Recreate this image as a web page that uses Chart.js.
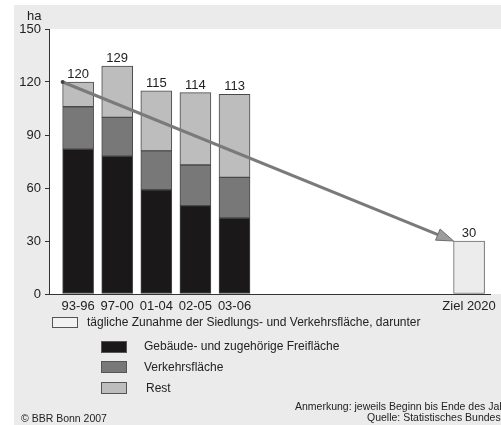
<!DOCTYPE html>
<html lang="de">
<head>
<meta charset="utf-8">
<title>Tägliche Zunahme der Siedlungs- und Verkehrsfläche</title>
<script src="https://cdn.jsdelivr.net/npm/chart.js@4.4.1/dist/chart.umd.min.js"></script>
<style>
  html, body { margin: 0; padding: 0; background: #fff; }
  body { width: 501px; height: 425px; position: relative; overflow: hidden;
         font-family: "Liberation Sans", Arial, sans-serif; color: #222; }
  .panel { position: absolute; left: 14px; top: 5px; width: 487px; height: 420px; background: #ebebeb; }
  .wrap { position: absolute; left: 0; top: 0; width: 501px; height: 425px; }
  .txt { position: absolute; white-space: nowrap; line-height: 1; }
  .box { position: absolute; box-sizing: border-box; border: 1px solid #555; }
  .leg { font-size: 12px; }
  .note { font-size: 10.5px; }
</style>
</head>
<body>
<div class="panel"></div>
<div class="wrap"><canvas id="chart"></canvas></div>

<span class="txt" style="left:27px; top:9px; font-size:13px;">ha</span>

<!-- Legende -->
<div class="box" style="left:52px; top:317px; width:26px; height:11px; background:#f2f2f2;"></div>
<span class="txt leg" style="left:87px; top:316px;">tägliche Zunahme der Siedlungs- und Verkehrsfläche, darunter</span>
<div class="box" style="left:101px; top:341px; width:26px; height:12px; background:#1a1819;"></div>
<span class="txt leg" style="left:144px; top:340px;">Gebäude- und zugehörige Freifläche</span>
<div class="box" style="left:101px; top:361px; width:26px; height:12px; background:#787878;"></div>
<span class="txt leg" style="left:144px; top:361px;">Verkehrsfläche</span>
<div class="box" style="left:101px; top:382px; width:26px; height:12px; background:#bdbdbd;"></div>
<span class="txt leg" style="left:146px; top:382px;">Rest</span>

<span class="txt note" style="left:295px; top:401px;">Anmerkung: jeweils Beginn bis Ende des Jahres</span>
<span class="txt note" style="left:367px; top:412px;">Quelle: Statistisches Bundesamt</span>
<span class="txt note" style="left:21px; top:413px;">© BBR Bonn 2007</span>

<script>
// Kategorien (leere Plätze = Lücke bis zum Ziel 2020)
const categories = ['93-96', '97-00', '01-04', '02-05', '03-06', '', '', '', '', '', 'Ziel 2020'];

// Werte in ha pro Tag
const gebaeude = [82, 78, 59, 50, 43, null, null, null, null, null, null];
const verkehr  = [24, 22, 22, 23, 23, null, null, null, null, null, null];
const rest     = [14, 29, 34, 41, 47, null, null, null, null, null, null];
const ziel     = [null, null, null, null, null, null, null, null, null, null, 30];
const totals   = [120, 129, 115, 114, 113, null, null, null, null, null, 30];

const yTicks = [0, 30, 60, 90, 120, 150];

const toPoints = arr => arr.map((y, i) => ({ x: i, y })).filter(p => p.y !== null);

Chart.defaults.font.family = '"Liberation Sans", Arial, sans-serif';
Chart.defaults.color = '#222';

// Weißer Hintergrund der Zeichenfläche
const plotBg = {
  id: 'plotBg',
  beforeDraw(chart) {
    const { ctx, chartArea: a } = chart;
    ctx.save();
    ctx.fillStyle = '#fff';
    ctx.fillRect(a.left, a.top, chart.width - a.left, a.bottom - a.top);
    ctx.restore();
  }
};

// Pfeil vom ersten Balken zum Ziel 2020
const arrow = {
  id: 'arrow',
  afterDatasetsDraw(chart) {
    const { ctx } = chart;
    const first = chart.getDatasetMeta(2).data[0];
    const goal = chart.getDatasetMeta(3).data[0];
    if (!first || !goal) return;
    const x0 = first.x - first.width / 2, y0 = first.y;
    const x1 = goal.x - goal.width / 2, y1 = goal.y;
    const ang = Math.atan2(y1 - y0, x1 - x0);
    const head = 17, half = 6;
    const bx = x1 - head * Math.cos(ang), by = y1 - head * Math.sin(ang);
    ctx.save();
    ctx.strokeStyle = '#7a7a7a';
    ctx.lineWidth = 3;
    ctx.beginPath();
    ctx.moveTo(x0, y0);
    ctx.lineTo(bx, by);
    ctx.stroke();
    ctx.beginPath();
    ctx.moveTo(x1, y1);
    ctx.lineTo(bx + half * Math.sin(ang), by - half * Math.cos(ang));
    ctx.lineTo(bx - half * Math.sin(ang), by + half * Math.cos(ang));
    ctx.closePath();
    ctx.fillStyle = '#9c9c9c';
    ctx.fill();
    ctx.lineWidth = 1;
    ctx.strokeStyle = '#6e6e6e';
    ctx.stroke();
    ctx.fillStyle = '#444';
    ctx.beginPath();
    ctx.arc(x0, y0, 2, 0, Math.PI * 2);
    ctx.fill();
    ctx.restore();
  }
};

// Summen über den Balken
const totalLabels = {
  id: 'totalLabels',
  afterDatasetsDraw(chart) {
    const { ctx } = chart;
    const xs = chart.scales.x, ys = chart.scales.y;
    ctx.save();
    ctx.font = '13px "Liberation Sans", Arial, sans-serif';
    ctx.fillStyle = '#222';
    ctx.textAlign = 'center';
    ctx.textBaseline = 'alphabetic';
    totals.forEach((t, i) => {
      if (t === null) return;
      ctx.fillText(String(t), xs.getPixelForValue(i), ys.getPixelForValue(t) - 4);
    });
    ctx.restore();
  }
};

const barStyle = { borderColor: '#4a4a4a', borderWidth: 1, borderSkipped: false, barThickness: 31 };

new Chart(document.getElementById('chart'), {
  type: 'bar',
  data: {
    datasets: [
      { label: 'Gebäude- und zugehörige Freifläche', data: toPoints(gebaeude), backgroundColor: '#1a1819', ...barStyle },
      { label: 'Verkehrsfläche', data: toPoints(verkehr), backgroundColor: '#787878', ...barStyle },
      { label: 'Rest', data: toPoints(rest), backgroundColor: '#bdbdbd', ...barStyle },
      { label: 'Ziel 2020', data: toPoints(ziel), backgroundColor: '#ececec', ...barStyle, borderColor: '#6a6a6a' }
    ]
  },
  options: {
    responsive: true,
    maintainAspectRatio: false,
    animation: false,
    layout: { padding: { left: 14, top: 29, right: 4, bottom: 109 } },
    plugins: { legend: { display: false }, tooltip: { enabled: false } },
    scales: {
      x: {
        type: 'linear', stacked: true, offset: false, min: -0.745, max: 10.54,
        grid: { display: false, drawTicks: false, offset: false },
        border: { color: '#333', width: 1 },
        afterBuildTicks: s => { s.ticks = categories.map((c, i) => ({ value: i })).filter(t => categories[t.value]); },
        afterFit: s => { s.height = 22; },
        ticks: { callback: v => categories[v], autoSkip: false, maxRotation: 0, padding: 5, color: '#222', font: { size: 13 } }
      },
      y: {
        stacked: true, min: 0, max: 150,
        afterBuildTicks: s => { s.ticks = yTicks.map(v => ({ value: v })); },
        afterFit: s => { s.width = 35; },
        grid: { drawOnChartArea: false, drawTicks: true, tickLength: 4, color: '#333' },
        border: { color: '#333', width: 1 },
        ticks: { padding: 4, color: '#222', font: { size: 13 } }
      }
    }
  },
  plugins: [plotBg, arrow, totalLabels]
});
</script>
</body>
</html>
